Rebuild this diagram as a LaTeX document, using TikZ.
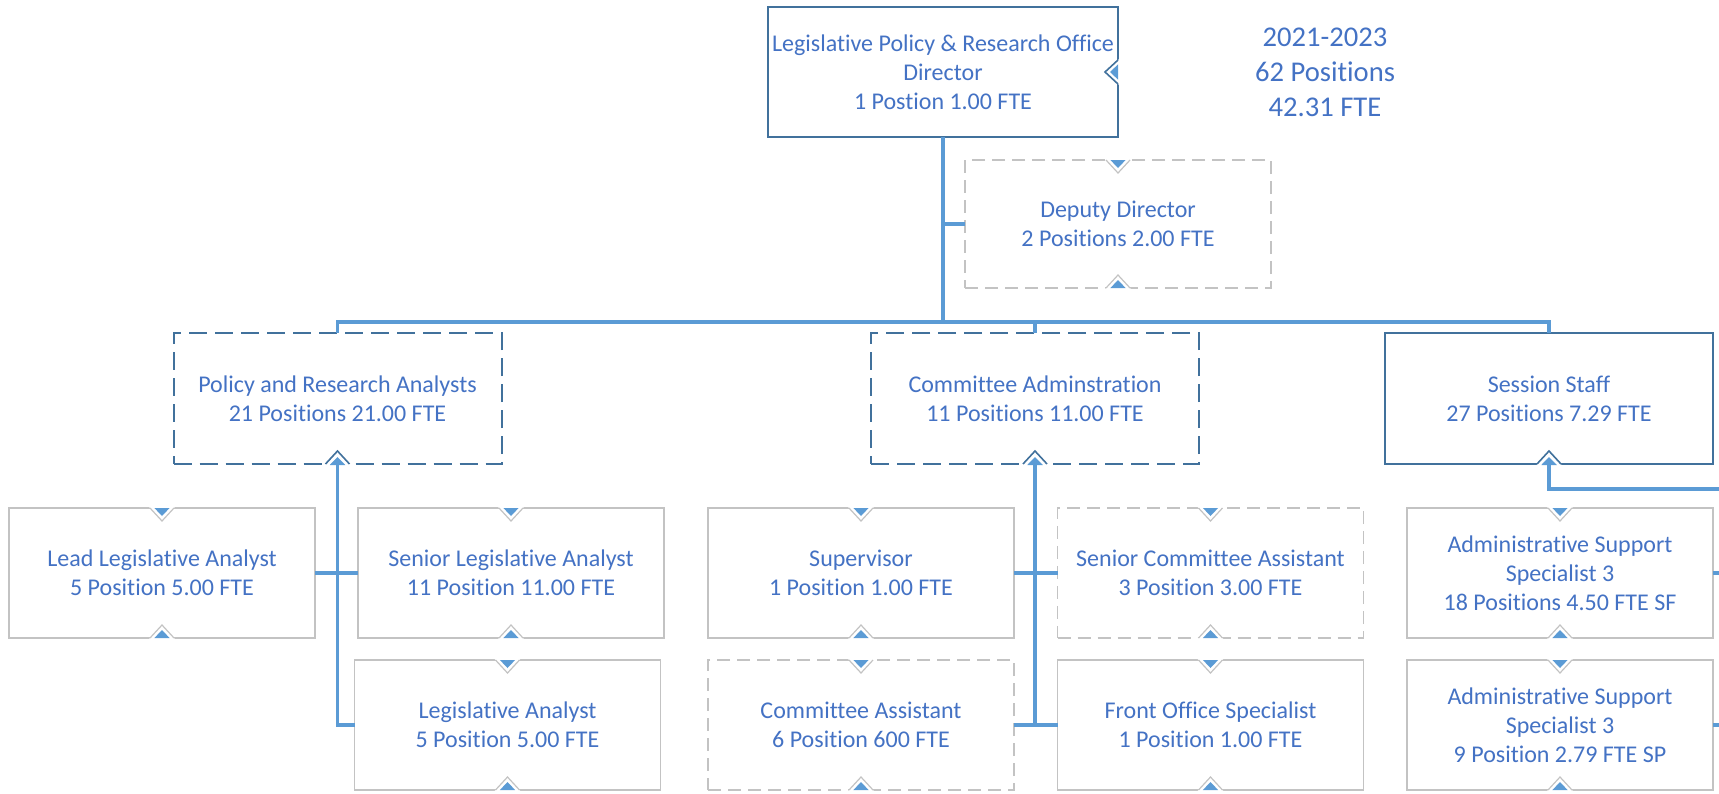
\documentclass[tikz,border=0pt]{standalone}
\usepackage{fontspec}
\setmainfont{Carlito}[Ligatures=NoCommon]
\usetikzlibrary{arrows.meta,positioning}
\definecolor{orgtext}{HTML}{4472C4}
\definecolor{orgline}{HTML}{5B9BD5}
\definecolor{orgedge}{HTML}{41719C}
\definecolor{orggray}{HTML}{C3C3C3}

\begin{document}
\begin{tikzpicture}[x=0.5pt,y=-0.5pt,
  box/.style={draw=orggray,line width=0.6pt,fill=white,inner sep=0pt,outer sep=0pt,
    minimum width=153pt,minimum height=65pt,text=orgtext,align=center,
    font=\fontsize{12}{14.6}\selectfont},
  gbox/.style={box,dash pattern=on 6.5pt off 3.5pt},
  lvtwo/.style={box,draw=orgedge,line width=0.8pt,minimum width=164pt,minimum height=65.5pt},
  lvtwod/.style={lvtwo,line width=1pt,dash pattern=on 9pt off 4pt},
  conn/.style={orgline,line width=1.6pt},
  uptip/.style={{Triangle[width=7.5pt,length=4pt]}-}
]
  \useasboundingbox (0,0) rectangle (1719,793);
  % director and deputy
  \node[lvtwo,minimum width=175pt,minimum height=65pt] (dir) at (943,72)
    {Legislative Policy \& Research Office\\Director\\1 Postion 1.00 FTE};
  \node[gbox,minimum height=64pt] (dep) at (1118,224) {Deputy Director\\2 Positions 2.00 FTE};
  \node[text=orgtext,align=center,font=\fontsize{14.3}{17.5}\selectfont] (yrs) at (1325,72)
    {2021-2023\\62 Positions\\42.31 FTE};
  % group heads
  \node[lvtwod] (pol) at (337.5,398.5) {Policy and Research Analysts\\21 Positions 21.00 FTE};
  \node[lvtwod] (com) at (1035,398.5) {Committee Adminstration\\11 Positions 11.00 FTE};
  \node[lvtwo] (ses) at (1549,398.5) {Session Staff\\27 Positions 7.29 FTE};
  % positions
  \node[box] (lead) at (162,573) {Lead Legislative Analyst\\5 Position 5.00 FTE};
  \node[box] (sen) at (511,573) {Senior Legislative Analyst\\11 Position 11.00 FTE};
  \node[box] (leg) at (507.5,725) {Legislative Analyst\\5 Position 5.00 FTE};
  \node[box] (sup) at (861,573) {Supervisor\\1 Position 1.00 FTE};
  \node[gbox] (sca) at (1210.5,573) {Senior Committee Assistant\\3 Position 3.00 FTE};
  \node[gbox] (ca) at (861,725) {Committee Assistant\\6 Position 600 FTE};
  \node[box] (fos) at (1210.5,725) {Front Office Specialist\\1 Position 1.00 FTE};
  \node[box] (as1) at (1560,573) {Administrative Support\\Specialist 3\\18 Positions 4.50 FTE SF};
  \node[box] (as2) at (1560,725) {Administrative Support\\Specialist 3\\9 Position 2.79 FTE SP};
  % top markers
  \foreach \n in {dep,lead,sen,leg,sup,sca,ca,fos,as1,as2} {
    \fill[white] ([shift={(-6.5pt,0.6pt)}]\n.north) -- ([yshift=-6.5pt]\n.north) -- ([shift={(6.5pt,0.6pt)}]\n.north) -- cycle;
    \draw[orggray,line width=0.6pt] ([xshift=-6pt]\n.north) -- ([yshift=-6.5pt]\n.north) -- ([xshift=6pt]\n.north);
    \fill[orgline] ([xshift=-3.8pt]\n.north) -- ([yshift=-4pt]\n.north) -- ([xshift=3.8pt]\n.north) -- cycle;
  }
  % bottom markers
  \foreach \n in {dep,lead,sen,leg,sup,sca,ca,fos,as1,as2} {
    \fill[white] ([shift={(-6.5pt,-0.6pt)}]\n.south) -- ([yshift=6.5pt]\n.south) -- ([shift={(6.5pt,-0.6pt)}]\n.south) -- cycle;
    \draw[orggray,line width=0.6pt] ([xshift=-6pt]\n.south) -- ([yshift=6.5pt]\n.south) -- ([xshift=6pt]\n.south);
    \fill[orgline] ([xshift=-3.8pt]\n.south) -- ([yshift=4pt]\n.south) -- ([xshift=3.8pt]\n.south) -- cycle;
  }
  \foreach \n in {pol,com,ses} {
    \fill[white] ([shift={(-6.5pt,-0.8pt)}]\n.south) -- ([yshift=6.5pt]\n.south) -- ([shift={(6.5pt,-0.8pt)}]\n.south) -- cycle;
    \draw[orgedge,line width=0.8pt] ([xshift=-6pt]\n.south) -- ([yshift=6.5pt]\n.south) -- ([xshift=6pt]\n.south);
  }
  % director side marker
  \fill[white] ([shift={(0.6pt,6.5pt)}]dir.east) -- ([xshift=-6.5pt]dir.east) -- ([shift={(0.6pt,-6.5pt)}]dir.east) -- cycle;
  \draw[orgedge,line width=0.8pt] ([yshift=6pt]dir.east) -- ([xshift=-6.5pt]dir.east) -- ([yshift=-6pt]dir.east);
  \fill[orgline] ([yshift=3.8pt]dir.east) -- ([xshift=-4pt]dir.east) -- ([yshift=-3.8pt]dir.east) -- cycle;
  % connectors
  \coordinate (bar) at (943,322);
  \coordinate (sesR) at (1719,489);
  \coordinate (as1R) at (1719,573);
  \coordinate (as2R) at (1719,725);
  \draw[conn] (dir.south) -- (bar);
  \draw[conn] (dir.south) |- (dep.west);
  \draw[conn] (pol.north) |- (bar) -| (ses.north);
  \draw[conn] (com.north) -- (com.north |- bar);
  \draw[conn,uptip] ([yshift=3.5pt]pol.south) |- (leg.west);
  \draw[conn] (lead.east) -- (sen.west);
  \draw[conn,uptip] ([yshift=3.5pt]com.south) -- (com.south |- fos.west);
  \draw[conn] (sup.east) -- (sca.west);
  \draw[conn] (ca.east) -- (fos.west);
  \draw[conn,uptip] ([yshift=3.5pt]ses.south) |- (sesR);
  \draw[conn] (as1.east) -- (as1R);
  \draw[conn] (as2.east) -- (as2R);
\end{tikzpicture}
\end{document}
